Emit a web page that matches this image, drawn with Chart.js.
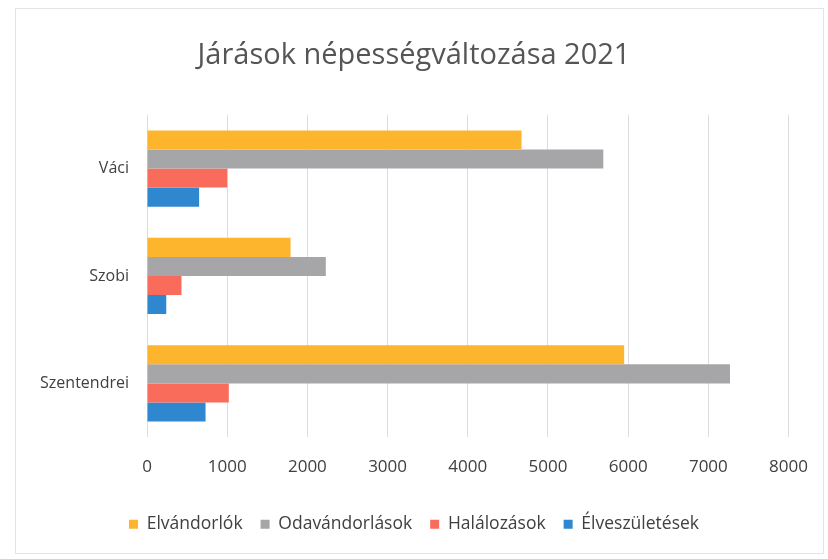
<!DOCTYPE html>
<html>
<head>
<meta charset="utf-8">
<script src="https://cdn.jsdelivr.net/npm/chart.js@4/dist/chart.umd.min.js"></script>
<style>
  html, body { margin: 0; padding: 0; background: #ffffff; }
  #wrap { width: 828px; height: 559px; position: relative; }
</style>
</head>
<body>
<div id="wrap"><canvas id="chart"></canvas></div>
<script>
const districts = ['Váci', 'Szobi', 'Szentendrei'];
const elvandorlok = [4670, 1790, 5950];
const odavandorlasok = [5690, 2230, 7270];
const halalozasok = [1000, 430, 1020];
const elveszuletesek = [650, 240, 730];

const seriesNames = ['Elvándorlók', 'Odavándorlások', 'Halálozások', 'Élveszületések'];
const colors = ['#FCB52C', '#A6A5A8', '#F96B5B', '#2E87CF'];
const values = [elvandorlok, odavandorlasok, halalozasok, elveszuletesek];

const textColor = '#404040';
const fontFamily = "'Open Sans', 'Noto Sans', sans-serif";

// faint frame around the page, like the scanned original
const framePlugin = {
  id: 'frame',
  beforeDraw(chart) {
    const ctx = chart.ctx;
    ctx.save();
    ctx.fillStyle = '#ffffff';
    ctx.fillRect(0, 0, chart.width, chart.height);
    ctx.strokeStyle = '#e4e4e4';
    ctx.lineWidth = 1;
    ctx.strokeRect(15.5, 8.5, chart.width - 20, chart.height - 14);
    ctx.restore();
  }
};

let datasets = [];
for (let i = 0; i < seriesNames.length; i++) {
  datasets.push({
    label: seriesNames[i],
    data: values[i],
    backgroundColor: colors[i],
    borderWidth: 0,
    barPercentage: 1.0,
    categoryPercentage: 0.71
  });
}

new Chart(document.getElementById('chart'), {
  type: 'bar',
  data: {
    labels: districts,
    datasets: datasets
  },
  plugins: [framePlugin],
  options: {
    indexAxis: 'y',
    responsive: true,
    maintainAspectRatio: false,
    animation: false,
    layout: {
      padding: { left: 38, right: 38, top: 30, bottom: 16 }
    },
    plugins: {
      title: {
        display: true,
        text: 'Járások népességváltozása 2021',
        color: '#555555',
        font: { family: fontFamily, size: 29, weight: 'normal' },
        padding: { top: 8, bottom: 42 }
      },
      legend: {
        position: 'bottom',
        labels: {
          color: textColor,
          font: { family: fontFamily, size: 17.5 },
          boxWidth: 9,
          boxHeight: 9,
          padding: 18
        }
      },
      tooltip: { enabled: false }
    },
    scales: {
      x: {
        min: 0,
        max: 8000,
        ticks: {
          stepSize: 1000,
          color: textColor,
          font: { family: fontFamily, size: 17 },
          padding: 20,
          callback: v => String(v)
        },
        grid: {
          color: '#dcdcdc',
          drawTicks: false
        },
        border: { display: false }
      },
      y: {
        ticks: {
          color: textColor,
          font: { family: fontFamily, size: 16 },
          padding: 10
        },
        grid: { display: false },
        border: { display: false },
        afterFit(scale) {
          scale.width = 109;
        }
      }
    }
  }
});
</script>
</body>
</html>
